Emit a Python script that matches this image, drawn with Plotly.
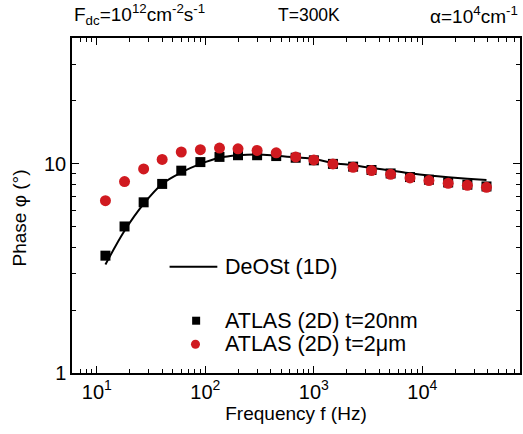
import plotly.graph_objects as go

freq = [12, 18, 27, 40, 60, 90, 135, 200, 300, 450, 680, 1000, 1500, 2300,
        3400, 5100, 7700, 11500, 17300, 26000, 39000]
deost_1d = [3.30, 4.79, 6.44, 8.02, 9.10, 10.0, 10.7, 11.0, 11.1, 10.95, 10.75,
            10.55, 10.1, 9.85, 9.55, 9.3, 9.02, 8.8, 8.63, 8.5, 8.38]
atlas_20nm = [3.64, 5.02, 6.55, 8.02, 9.28, 10.2, 10.8, 11.0, 11.0, 10.9, 10.7,
              10.4, 10.0, 9.7, 9.35, 9.0, 8.65, 8.4, 8.15, 7.95, 7.8]
atlas_2um = [6.67, 8.23, 9.46, 10.5, 11.4, 11.7, 11.9, 11.8, 11.6, 11.3, 10.8,
             10.45, 10.0, 9.63, 9.29, 8.92, 8.57, 8.32, 8.08, 7.90, 7.73]

legend_labels = ["DeOSt (1D)", "ATLAS (2D) t=20nm", "ATLAS (2D) t=2\u03bcm"]
x_major = [10, 100, 1000, 10000]
x_major_text = ["10<sup>1</sup>", "10<sup>2</sup>", "10<sup>3</sup>", "10<sup>4</sup>"]
y_major = [1, 10]
y_major_text = ["1", "10"]
x_all = [m * 10 ** d for d in range(0, 5) for m in range(1, 10)
         if 6 <= m * 10 ** d <= 79000]
y_all = [m * 10 ** d for d in range(0, 2) for m in range(1, 10) if m * 10 ** d <= 40]
x_all_text = [x_major_text[x_major.index(v)] if v in x_major else "" for v in x_all]
y_all_text = [y_major_text[y_major.index(v)] if v in y_major else "" for v in y_all]

RED = "#d01a20"
FONT = "Liberation Sans, Arial, sans-serif"
XR = [0.771, 4.9]
YR = [0, 1.602]

fig = go.Figure()
fig.add_trace(go.Scatter(x=freq, y=deost_1d, mode="lines",
                         line=dict(color="black", width=2, shape="spline"),
                         showlegend=False))
fig.add_trace(go.Scatter(x=freq, y=atlas_20nm, mode="markers",
                         marker=dict(symbol="square", size=10, color="black"),
                         showlegend=False))
fig.add_trace(go.Scatter(x=freq, y=atlas_2um, mode="markers",
                         marker=dict(symbol="circle", size=11, color=RED),
                         showlegend=False))
# helper trace for the overlay axes carrying the longer major ticks
fig.add_trace(go.Scatter(x=[freq[0]], y=[deost_1d[0]], xaxis="x2", yaxis="y2",
                         mode="lines", line=dict(width=0), showlegend=False,
                         hoverinfo="skip"))

tickfont = dict(family=FONT, size=20, color="black")
common = dict(showline=True, linecolor="black", linewidth=1.5, mirror="ticks",
              ticks="inside", ticklen=4, tickwidth=1.3, tickcolor="black",
              showgrid=False, zeroline=False, tickfont=tickfont, tickmode="array")
overlay = dict(showticklabels=False, ticks="inside", ticklen=7, tickwidth=1.4,
               tickcolor="black", mirror="ticks", showline=False, showgrid=False,
               zeroline=False, tickmode="array")
fig.update_layout(
    xaxis=dict(type="log", range=XR, tickvals=x_all, ticktext=x_all_text,
               title=dict(text="Frequency f (Hz)",
                          font=dict(family=FONT, size=19, color="black"), standoff=4),
               **common),
    yaxis=dict(type="log", range=YR, tickvals=y_all, ticktext=y_all_text, **common),
    xaxis2=dict(type="log", range=XR, overlaying="x", anchor="y", side="bottom",
                tickvals=x_major, **overlay),
    yaxis2=dict(type="log", range=YR, overlaying="y", anchor="x", side="left",
                tickvals=y_major, **overlay),
)

# legend drawn manually
fig.add_shape(type="line", xref="paper", yref="paper", x0=0.2178, x1=0.3244,
              y0=0.3173, y1=0.3173, line=dict(color="black", width=2))
fig.add_shape(type="rect", xref="paper", yref="paper", xsizemode="pixel", ysizemode="pixel",
              xanchor=0.2771, yanchor=0.1561, x0=-4, x1=4, y0=-4, y1=4,
              fillcolor="black", line=dict(width=0))
fig.add_shape(type="circle", xref="paper", yref="paper", xsizemode="pixel", ysizemode="pixel",
              xanchor=0.2756, yanchor=0.0857, x0=-4.5, x1=4.5, y0=-4.5, y1=4.5,
              fillcolor=RED, line=dict(width=0))
for lbl, yy in zip(legend_labels, [0.3173, 0.1561, 0.0857]):
    fig.add_annotation(text=lbl, xref="paper", yref="paper", x=0.336, y=yy,
                       xanchor="left", yanchor="middle", showarrow=False,
                       font=dict(family=FONT, size=21.5, color="black"))

# header texts
fig.add_annotation(text="F<sub>dc</sub>=10<sup>12</sup>cm<sup>-2</sup>s<sup>-1</sup>",
                   xref="paper", yref="paper", x=0.0, y=1.069, xanchor="left",
                   yanchor="middle", showarrow=False,
                   font=dict(family=FONT, size=19, color="black"))
fig.add_annotation(text="T=300K", xref="paper", yref="paper", x=0.529, y=1.069,
                   xanchor="center", yanchor="middle", showarrow=False,
                   font=dict(family=FONT, size=17.5, color="black"))
fig.add_annotation(text="\u03b1=10<sup>4</sup>cm<sup>-1</sup>", xref="paper", yref="paper",
                   x=1.0, y=1.069, xanchor="right", yanchor="middle", showarrow=False,
                   font=dict(family=FONT, size=19, color="black"))
# y title
fig.add_annotation(text="Phase \u03c6 (\u00b0)", xref="paper", yref="paper",
                   x=-0.117, y=0.463, xanchor="center", yanchor="middle",
                   textangle=-90, showarrow=False,
                   font=dict(family=FONT, size=19, color="black"))

fig.update_layout(width=523, height=434, margin=dict(l=72, r=1, t=38, b=61),
                  paper_bgcolor="white", plot_bgcolor="white",
                  font=dict(family=FONT, color="black"))
fig.write_html("out.html", config={"displayModeBar": False},
               post_script="document.body.style.margin='0';document.body.style.padding='0';")
